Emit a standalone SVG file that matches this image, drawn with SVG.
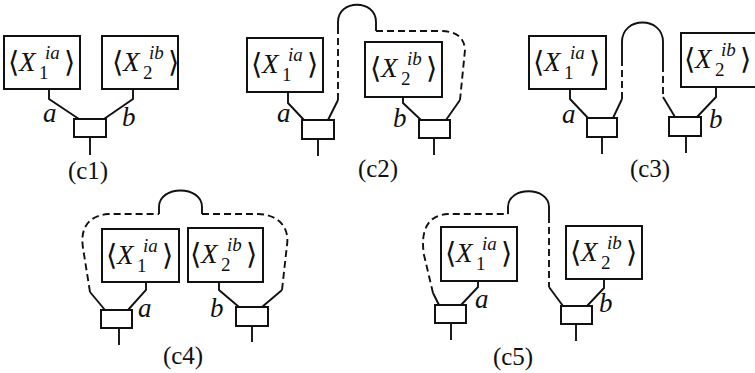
<svg xmlns="http://www.w3.org/2000/svg" width="755" height="373" viewBox="0 0 755 373">
<style>
.bx{fill:#fff;stroke:#111;stroke-width:2}
.sb{fill:#fff;stroke:#111;stroke-width:2}
.ln{fill:none;stroke:#111;stroke-width:1.9}
.ds{fill:none;stroke:#111;stroke-width:1.9;stroke-dasharray:7 4}
.m{font-size:29px}
.mi{font-size:27px;font-style:italic}
.s{font-size:19px}
.si{font-size:19px;font-style:italic}
.lb{font-size:27px;font-style:italic}
.cap{font-size:25px;text-anchor:middle}
</style>
<rect width="755" height="373" fill="#fff"/>
<g id="connectors">
<path class="ln" d="M49,89 V99 L79,119"/>
<path class="ln" d="M133,89 V99 L104,119"/>
<path class="ln" d="M90,137 V155"/>
<path class="ln" d="M288,92 V103 L304,120"/>
<path class="ln" d="M328,120 L338,100"/>
<path class="ds" d="M338,100 V27"/>
<path class="ln" d="M338,28 V22 C338,-1 376,-1 376,22 V31"/>
<path class="ds" d="M376,31 H440 Q464,31 465,50 L460,100"/>
<path class="ln" d="M460,100 L446,120"/>
<path class="ln" d="M403,97 V103 L421,120"/>
<path class="ln" d="M318,139 V156"/>
<path class="ln" d="M434,138 V155"/>
<path class="ln" d="M570,89 V99 L588,118"/>
<path class="ln" d="M613,118 L622,99"/>
<path class="ds" d="M622,99 V63"/>
<path class="ln" d="M622,63 V42 C622,16 663,16 663,42 V65"/>
<path class="ds" d="M663,65 V97"/>
<path class="ln" d="M663,97 L675,117"/>
<path class="ln" d="M716,87 V97 L697,117"/>
<path class="ln" d="M602,137 V154"/>
<path class="ln" d="M686,136 V153"/>
<path class="ln" d="M146,282 V290 L128,310"/>
<path class="ln" d="M105,310 L90,292"/>
<path class="ds" d="M90,292 L83,248 C80,228 88,216 108,214 H159"/>
<path class="ln" d="M159,214 V207 C159,185 202,185 202,207 V214"/>
<path class="ds" d="M202,214 H258 C275,214 290,225 287,245 L282,290"/>
<path class="ln" d="M282,290 L262,307"/>
<path class="ln" d="M219,282 V290 L239,307"/>
<path class="ln" d="M119,328 V345"/>
<path class="ln" d="M252,326 V342"/>
<path class="ln" d="M478,281 V287 L461,305"/>
<path class="ln" d="M439,305 L433,293"/>
<path class="ds" d="M433,293 L424,255 C420,230 428,215 448,214 H508"/>
<path class="ln" d="M508,214 V207 C508,186 549,186 549,207 V216"/>
<path class="ds" d="M549,216 V287"/>
<path class="ln" d="M549,287 L563,306"/>
<path class="ln" d="M604,279 V288 L587,306"/>
<path class="ln" d="M451,323 V340"/>
<path class="ln" d="M576,324 V341"/>
</g>
<g font-family="'Liberation Serif', 'DejaVu Serif', serif" fill="#111">
<g id="edge-labels">
<text class="lb" x="43" y="122">a</text>
<text class="lb" x="122" y="126">b</text>
<text class="lb" x="277" y="122">a</text>
<text class="lb" x="393" y="127">b</text>
<text class="lb" x="562" y="123">a</text>
<text class="lb" x="709" y="128">b</text>
<text class="lb" x="138" y="317">a</text>
<text class="lb" x="210" y="317">b</text>
<text class="lb" x="475" y="308">a</text>
<text class="lb" x="599" y="312">b</text>
</g>
<g id="c1-X1" transform="translate(4,36)">
<rect class="bx" x="0" y="0" width="76" height="53"/>
<text class="m" x="4" y="36">⟨</text><text class="mi" x="15" y="35">X</text><text class="s" x="35" y="43">1</text><text class="si" x="41" y="23">ia</text><text class="m" x="60" y="36">⟩</text>
</g>
<g id="c1-X2" transform="translate(102,36)">
<rect class="bx" x="0" y="0" width="76" height="53"/>
<text class="m" x="10" y="36">⟨</text><text class="mi" x="21" y="35">X</text><text class="s" x="41" y="43">2</text><text class="si" x="47" y="23">ib</text><text class="m" x="66" y="36">⟩</text>
</g>
<g id="c1-node"><rect class="sb" x="74" y="119" width="32" height="18"/></g>
<text class="cap" x="88" y="179">(c1)</text>
<g id="c2-X1" transform="translate(247,38)">
<rect class="bx" x="0" y="0" width="76" height="54"/>
<text class="m" x="4" y="36">⟨</text><text class="mi" x="15" y="35">X</text><text class="s" x="35" y="43">1</text><text class="si" x="41" y="23">ia</text><text class="m" x="60" y="36">⟩</text>
</g>
<g id="c2-X2" transform="translate(365,42)">
<rect class="bx" x="0" y="0" width="77" height="55"/>
<text class="m" x="5" y="36">⟨</text><text class="mi" x="16" y="35">X</text><text class="s" x="36" y="43">2</text><text class="si" x="42" y="23">ib</text><text class="m" x="61" y="36">⟩</text>
</g>
<g id="c2-node1"><rect class="sb" x="302" y="120" width="32" height="19"/></g>
<g id="c2-node2"><rect class="sb" x="419" y="120" width="31" height="18"/></g>
<text class="cap" x="378" y="177">(c2)</text>
<g id="c3-X1" transform="translate(529,36)">
<rect class="bx" x="0" y="0" width="77" height="53"/>
<text class="m" x="4" y="36">⟨</text><text class="mi" x="15" y="35">X</text><text class="s" x="35" y="43">1</text><text class="si" x="41" y="23">ia</text><text class="m" x="60" y="36">⟩</text>
</g>
<g id="c3-X2" transform="translate(681,33)">
<rect class="bx" x="0" y="0" width="77" height="54"/>
<text class="m" x="3" y="36">⟨</text><text class="mi" x="14" y="35">X</text><text class="s" x="34" y="43">2</text><text class="si" x="40" y="23">ib</text><text class="m" x="59" y="36">⟩</text>
</g>
<g id="c3-node1"><rect class="sb" x="587" y="118" width="30" height="19"/></g>
<g id="c3-node2"><rect class="sb" x="669" y="117" width="32" height="19"/></g>
<text class="cap" x="650" y="177">(c3)</text>
<g id="c4-X1" transform="translate(102,229)">
<rect class="bx" x="0" y="0" width="77" height="53"/>
<text class="m" x="4" y="36">⟨</text><text class="mi" x="15" y="35">X</text><text class="s" x="35" y="43">1</text><text class="si" x="41" y="23">ia</text><text class="m" x="60" y="36">⟩</text>
</g>
<g id="c4-X2" transform="translate(188,228)">
<rect class="bx" x="0" y="0" width="75" height="54"/>
<text class="m" x="2" y="36">⟨</text><text class="mi" x="13" y="35">X</text><text class="s" x="33" y="43">2</text><text class="si" x="39" y="23">ib</text><text class="m" x="58" y="36">⟩</text>
</g>
<g id="c4-node1"><rect class="sb" x="101" y="310" width="31" height="18"/></g>
<g id="c4-node2"><rect class="sb" x="236" y="307" width="32" height="19"/></g>
<text class="cap" x="183" y="364">(c4)</text>
<g id="c5-X1" transform="translate(441,227)">
<rect class="bx" x="0" y="0" width="76" height="54"/>
<text class="m" x="4" y="36">⟨</text><text class="mi" x="15" y="35">X</text><text class="s" x="35" y="43">1</text><text class="si" x="41" y="23">ia</text><text class="m" x="60" y="36">⟩</text>
</g>
<g id="c5-X2" transform="translate(566,226)">
<rect class="bx" x="0" y="0" width="76" height="53"/>
<text class="m" x="4" y="36">⟨</text><text class="mi" x="15" y="35">X</text><text class="s" x="35" y="43">2</text><text class="si" x="41" y="23">ib</text><text class="m" x="60" y="36">⟩</text>
</g>
<g id="c5-node1"><rect class="sb" x="435" y="305" width="31" height="18"/></g>
<g id="c5-node2"><rect class="sb" x="561" y="306" width="31" height="18"/></g>
<text class="cap" x="513" y="365">(c5)</text>
</g>
</svg>
